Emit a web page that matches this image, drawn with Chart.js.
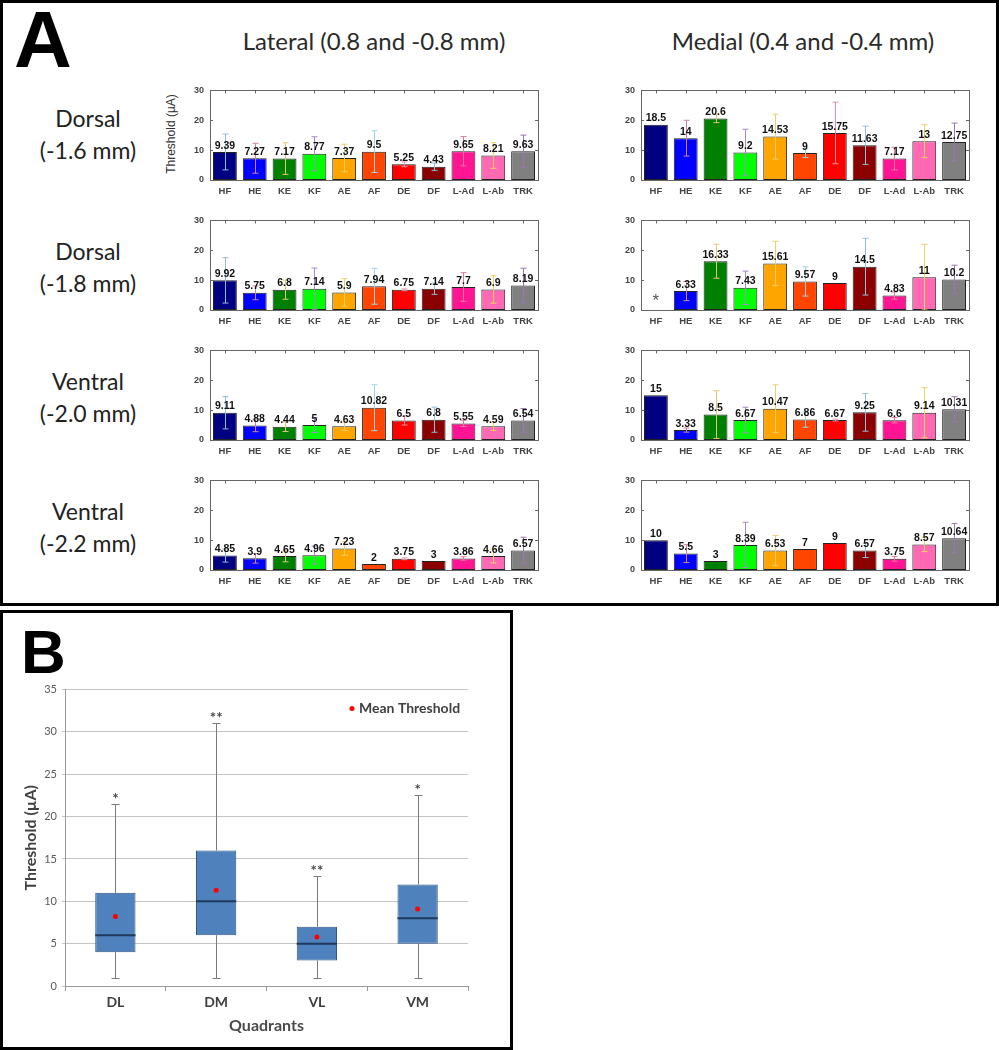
<!DOCTYPE html>
<html>
<head>
<meta charset="utf-8">
<script src="https://cdn.jsdelivr.net/npm/chart.js@4.4.1/dist/chart.umd.min.js"></script>
<style>
  body { margin: 0; background: #fff; }
  #page { position: relative; width: 999px; height: 1050px; overflow: hidden; font-family: Lato, 'Open Sans', sans-serif; }
  .panel { position: absolute; border: 3px solid #000; box-sizing: border-box; }
  .txt { position: absolute; white-space: nowrap; color: #222; }
  .rowlab { position: absolute; width: 150px; text-align: center; font-size: 23px; line-height: 32px; color: #222; }
  canvas { position: absolute; }
</style>
</head>
<body>
<div id="page">
  <div class="panel" style="left:0;top:0;width:999px;height:606px;"></div>
  <div class="panel" style="left:0;top:610px;width:513px;height:440px;"></div>

  <div class="txt" style="left:14px;top:-6px;font:bold 80px 'Liberation Sans';color:#000;">A</div>
  <div class="txt" style="left:21px;top:616px;font:bold 62px 'Liberation Sans';color:#000;">B</div>

  <div class="txt" style="left:374px;top:40px;transform:translate(-50%,-50%);font-size:24px;color:#2a2a2a;">Lateral (0.8 and -0.8 mm)</div>
  <div class="txt" style="left:803px;top:40px;transform:translate(-50%,-50%);font-size:24px;color:#2a2a2a;">Medial (0.4 and -0.4 mm)</div>

  <div class="rowlab" style="left:13px;top:102px;">Dorsal<br>(-1.6 mm)</div>
  <div class="rowlab" style="left:13px;top:235px;">Dorsal<br>(-1.8 mm)</div>
  <div class="rowlab" style="left:13px;top:365px;">Ventral<br>(-2.0 mm)</div>
  <div class="rowlab" style="left:13px;top:495px;">Ventral<br>(-2.2 mm)</div>

  <div class="txt" style="left:171px;top:134px;transform:translate(-50%,-50%) rotate(-90deg);font:12px 'Liberation Sans';color:#333;">Threshold (µA)</div>
</div>

<script>
// joints on the x axis of every panel A plot
const joints = ['HF', 'HE', 'KE', 'KF', 'AE', 'AF', 'DE', 'DF', 'L-Ad', 'L-Ab', 'TRK'];
const jointColors = ['#000080', '#0000ff', '#008000', '#00ff00', '#ffa500', '#ff4500',
                     '#ff0000', '#8b0000', '#ff1493', '#ff69b4', '#808080'];
const errColors = ['#8fbcd8', '#d0849a', '#e0c870', '#a888c8', '#e8d070', '#9fd6e6',
                   '#e894a8', '#8cc0de', '#e87898', '#ecd460', '#9a78a8'];
const yTicksA = [0, 10, 20, 30];

// lateral column (mean threshold, uA) and SD
const latDorsal16 = [9.39, 7.27, 7.17, 8.77, 7.37, 9.5, 5.25, 4.43, 9.65, 8.21, 9.63];
const latDorsal16Sd = [6, 5, 5.3, 5.7, 4.6, 7, 0.8, 1.2, 4.9, 4.3, 5.4];
const latDorsal18 = [9.92, 5.75, 6.8, 7.14, 5.9, 7.94, 6.75, 7.14, 7.7, 6.9, 8.19];
const latDorsal18Sd = [7.6, 2.3, 3.2, 6.9, 4.6, 6, 0.3, 1.9, 4.8, 4.6, 5.8];
const latVentral20 = [9.11, 4.88, 4.44, 5, 4.63, 10.82, 6.5, 6.8, 5.55, 4.59, 6.54];
const latVentral20Sd = [5.4, 2.1, 1.6, 2.5, 1.4, 7.7, 1.5, 4.2, 1, 1.4, 4];
const latVentral22 = [4.85, 3.9, 4.65, 4.96, 7.23, 2, 3.75, 3, 3.86, 4.66, 6.57];
const latVentral22Sd = [2.2, 1.6, 1.9, 3, 2.3, 0, 0.3, 0, 0.6, 2.3, 4.4];

// medial column
const medDorsal16 = [18.5, 14, 20.6, 9.2, 14.53, 9, 15.75, 11.63, 7.17, 13, 12.75];
const medDorsal16Sd = [0, 6, 1.4, 7.8, 7.5, 1.5, 10.3, 6.4, 3.8, 5.5, 6.3];
const medDorsal18 = [0, 6.33, 16.33, 7.43, 15.61, 9.57, 9, 14.5, 4.83, 11, 10.2];
const medDorsal18Sd = [0, 3.2, 5.7, 5.6, 7.4, 4.9, 0, 9.5, 1.2, 11, 4.8];
const medDorsal18Missing = ['HF'];   // drawn as '*'
const medVentral20 = [15, 3.33, 8.5, 6.67, 10.47, 6.86, 6.67, 9.25, 6.6, 9.14, 10.31];
const medVentral20Sd = [0, 0.7, 8, 4.3, 8, 2.6, 0.3, 6.3, 0.9, 8.4, 4.2];
const medVentral22 = [10, 5.5, 3, 8.39, 6.53, 7, 9, 6.57, 3.75, 8.57, 10.64];
const medVentral22Sd = [0, 3, 0, 7.6, 5, 0, 0, 2.4, 0.8, 2.4, 4.9];

// panel B box plot
const quadrants = ['DL', 'DM', 'VL', 'VM'];
const boxQ1 = [4, 6, 3, 5];
const boxQ3 = [11, 16, 7, 12];
const boxMedian = [6, 10, 5, 8];
const whiskerLow = [1, 1, 1, 1];
const whiskerHigh = [21.5, 31, 13, 22.5];
const meanThreshold = [8.2, 11.3, 5.8, 9.1];
const sigMarks = ['*', '**', '**', '*'];

const page = document.getElementById('page');

function makeCanvas(left, top, w, h) {
    const c = document.createElement('canvas');
    c.width = w; c.height = h;
    c.style.left = left + 'px';
    c.style.top = top + 'px';
    page.appendChild(c);
    return c;
}

// MATLAB-like frame, error bars, value labels
const matlabPlugin = {
    id: 'matlab',
    afterDatasetsDraw(chart, args, opts) {
        const ctx = chart.ctx;
        const a = chart.chartArea;
        const xs = chart.scales.x, ys = chart.scales.y;
        const vals = chart.data.datasets[0].data;
        ctx.save();
        // error bars
        ctx.lineWidth = 1;
        vals.forEach((v, i) => {
            const sd = opts.sd[i];
            if (!sd) return;
            const x = Math.round(xs.getPixelForValue(i)) + 0.5;
            const yt = ys.getPixelForValue(v + sd);
            const yb = ys.getPixelForValue(Math.max(v - sd, 0));
            ctx.strokeStyle = errColors[i];
            ctx.beginPath();
            ctx.moveTo(x, yt); ctx.lineTo(x, yb);
            ctx.moveTo(x - 3, yt); ctx.lineTo(x + 3, yt);
            ctx.moveTo(x - 3, yb); ctx.lineTo(x + 3, yb);
            ctx.stroke();
        });
        // frame + inward ticks
        ctx.strokeStyle = '#666';
        ctx.strokeRect(Math.round(a.left) + 0.5, Math.round(a.top) + 0.5,
                       Math.round(a.right - a.left), Math.round(a.bottom - a.top));
        ctx.beginPath();
        yTicksA.forEach(t => {
            const y = Math.round(ys.getPixelForValue(t)) + 0.5;
            ctx.moveTo(a.left, y); ctx.lineTo(a.left + 3, y);
            ctx.moveTo(a.right, y); ctx.lineTo(a.right - 3, y);
        });
        vals.forEach((v, i) => {
            const x = Math.round(xs.getPixelForValue(i)) + 0.5;
            ctx.moveTo(x, a.top); ctx.lineTo(x, a.top + 3);
        });
        ctx.stroke();
        // value labels
        const labelFont = "bold 10.5px 'Liberation Sans'";
        ctx.fillStyle = '#111';
        ctx.font = labelFont;
        ctx.textAlign = 'center';
        ctx.textBaseline = 'bottom';
        vals.forEach((v, i) => {
            const x = xs.getPixelForValue(i);
            if (opts.missing.includes(joints[i])) {
                ctx.fillStyle = '#555';
                ctx.font = "17px 'Liberation Sans'";
                ctx.textBaseline = 'middle';
                ctx.fillText('*', x, ys.getPixelForValue(2.8));
                ctx.fillStyle = '#111';
                ctx.font = labelFont;
                ctx.textBaseline = 'bottom';
                return;
            }
            ctx.fillText(String(v), x, ys.getPixelForValue(v) - 1);
        });
        ctx.restore();
    }
};

const panelsA = [
    { left: 210, top: 87,  values: latDorsal16,  sd: latDorsal16Sd,  missing: [] },
    { left: 210, top: 217, values: latDorsal18,  sd: latDorsal18Sd,  missing: [] },
    { left: 210, top: 347, values: latVentral20, sd: latVentral20Sd, missing: [] },
    { left: 210, top: 477, values: latVentral22, sd: latVentral22Sd, missing: [] },
    { left: 641, top: 87,  values: medDorsal16,  sd: medDorsal16Sd,  missing: [] },
    { left: 641, top: 217, values: medDorsal18,  sd: medDorsal18Sd,  missing: medDorsal18Missing },
    { left: 641, top: 347, values: medVentral20, sd: medVentral20Sd, missing: [] },
    { left: 641, top: 477, values: medVentral22, sd: medVentral22Sd, missing: [] }
];

const plotW = 328, plotH = 93;

panelsA.forEach(p => {
    const canvas = makeCanvas(p.left - 30, p.top - 8, 30 + plotW + 6, 8 + plotH + 18);
    new Chart(canvas.getContext('2d'), {
        type: 'bar',
        data: {
            labels: joints,
            datasets: [{
                data: p.values,
                backgroundColor: jointColors,
                borderColor: '#222',
                borderWidth: 1,
                borderSkipped: false,
                barPercentage: 0.8,
                categoryPercentage: 1
            }]
        },
        options: {
            responsive: false,
            animation: false,
            events: [],
            layout: { padding: { top: 8, right: 6, left: 0, bottom: 0 } },
            plugins: {
                legend: { display: false },
                tooltip: { enabled: false },
                matlab: { sd: p.sd, missing: p.missing }
            },
            scales: {
                x: {
                    grid: { display: false, drawTicks: false },
                    border: { display: false },
                    ticks: { color: '#444', padding: 6, maxRotation: 0, autoSkip: false,
                             font: { family: 'Liberation Sans', size: 9.5, weight: 'bold' } },
                    afterFit(s) { s.height = 18; }
                },
                y: {
                    min: 0, max: 30,
                    grid: { display: false, drawTicks: false },
                    border: { display: false },
                    ticks: { stepSize: 10, color: '#444', padding: 6,
                             font: { family: 'Liberation Sans', size: 9, weight: 'bold' } },
                    afterFit(s) { s.width = 30; }
                }
            }
        },
        plugins: [matlabPlugin]
    });
});

// ---- panel B: box plot ----
const boxPlugin = {
    id: 'boxparts',
    beforeDatasetsDraw(chart) {
        const ctx = chart.ctx;
        const xs = chart.scales.x, ys = chart.scales.y;
        ctx.save();
        ctx.strokeStyle = '#7a7a7a';
        ctx.lineWidth = 1;
        ctx.beginPath();
        quadrants.forEach((q, i) => {
            const x = Math.round(xs.getPixelForValue(i)) + 0.5;
            const yHi = Math.round(ys.getPixelForValue(whiskerHigh[i])) + 0.5;
            const yLo = Math.round(ys.getPixelForValue(whiskerLow[i])) + 0.5;
            ctx.moveTo(x, yHi); ctx.lineTo(x, ys.getPixelForValue(boxQ3[i]));
            ctx.moveTo(x, yLo); ctx.lineTo(x, ys.getPixelForValue(boxQ1[i]));
            ctx.moveTo(x - 4, yHi); ctx.lineTo(x + 4, yHi);
            ctx.moveTo(x - 4, yLo); ctx.lineTo(x + 4, yLo);
        });
        ctx.stroke();
        ctx.restore();
    },
    afterDatasetDraw(chart, args) {
        if (args.index !== 0) return;
        const ctx = chart.ctx;
        const xs = chart.scales.x, ys = chart.scales.y;
        const meta = chart.getDatasetMeta(0);
        ctx.save();
        ctx.strokeStyle = '#1f3a5c';
        ctx.lineWidth = 2;
        ctx.beginPath();
        meta.data.forEach((bar, i) => {
            const y = ys.getPixelForValue(boxMedian[i]);
            ctx.moveTo(bar.x - bar.width / 2, y);
            ctx.lineTo(bar.x + bar.width / 2, y);
        });
        ctx.stroke();
        ctx.fillStyle = '#4a4a4a';
        ctx.font = "bold 15px Lato";
        ctx.textAlign = 'center';
        ctx.textBaseline = 'middle';
        quadrants.forEach((q, i) => {
            ctx.fillText(sigMarks[i], xs.getPixelForValue(i), ys.getPixelForValue(whiskerHigh[i]) - 5);
        });
        ctx.restore();
    },
    afterDraw(chart) {
        const ctx = chart.ctx;
        const a = chart.chartArea;
        ctx.save();
        ctx.fillStyle = '#ff0000';
        ctx.beginPath();
        ctx.arc(a.right - 116, a.top + 19, 2.5, 0, Math.PI * 2);
        ctx.fill();
        ctx.fillStyle = '#404040';
        ctx.font = "bold 14px Lato";
        ctx.textBaseline = 'middle';
        ctx.textAlign = 'left';
        ctx.fillText('Mean Threshold', a.right - 109, a.top + 19);
        ctx.restore();
    }
};

const boxCanvas = makeCanvas(15, 678, 460, 364);
new Chart(boxCanvas.getContext('2d'), {
    data: {
        labels: quadrants,
        datasets: [
            {
                type: 'bar',
                label: 'IQR',
                data: quadrants.map((q, i) => [boxQ1[i], boxQ3[i]]),
                backgroundColor: '#4f81bd',
                borderColor: '#2f5686',
                borderWidth: 1,
                borderSkipped: false,
                barPercentage: 0.4,
                categoryPercentage: 1,
                order: 2
            },
            {
                type: 'line',
                label: 'Mean Threshold',
                data: meanThreshold,
                showLine: false,
                pointRadius: 2.5,
                pointBackgroundColor: '#ff0000',
                pointBorderWidth: 0,
                order: 1
            }
        ]
    },
    options: {
        responsive: false,
        animation: false,
        events: [],
        layout: { padding: { top: 10, right: 7, left: 3, bottom: 4 } },
        plugins: { legend: { display: false }, tooltip: { enabled: false } },
        scales: {
            x: {
                grid: { display: true, drawOnChartArea: false, tickLength: 5, color: '#999' },
                border: { color: '#999' },
                ticks: { color: '#404040', padding: 3, font: { family: 'Lato', size: 14, weight: 'bold' } },
                title: { display: true, text: 'Quadrants', color: '#4a4a4a', padding: 3,
                         font: { family: 'Lato', size: 16, weight: 'bold' } },
                afterFit(s) { s.height = 52; }
            },
            y: {
                min: 0, max: 35,
                grid: { color: '#c4c4c4', tickLength: 3 },
                border: { color: '#999' },
                ticks: { stepSize: 5, color: '#595959', padding: 5, font: { family: 'Lato', size: 11 } },
                title: { display: true, text: 'Threshold (µA)', color: '#404040', padding: 3,
                         font: { family: 'Lato', size: 16, weight: 'bold' } },
                afterFit(s) { s.width = 47; }
            }
        }
    },
    plugins: [boxPlugin]
});
</script>
</body>
</html>
